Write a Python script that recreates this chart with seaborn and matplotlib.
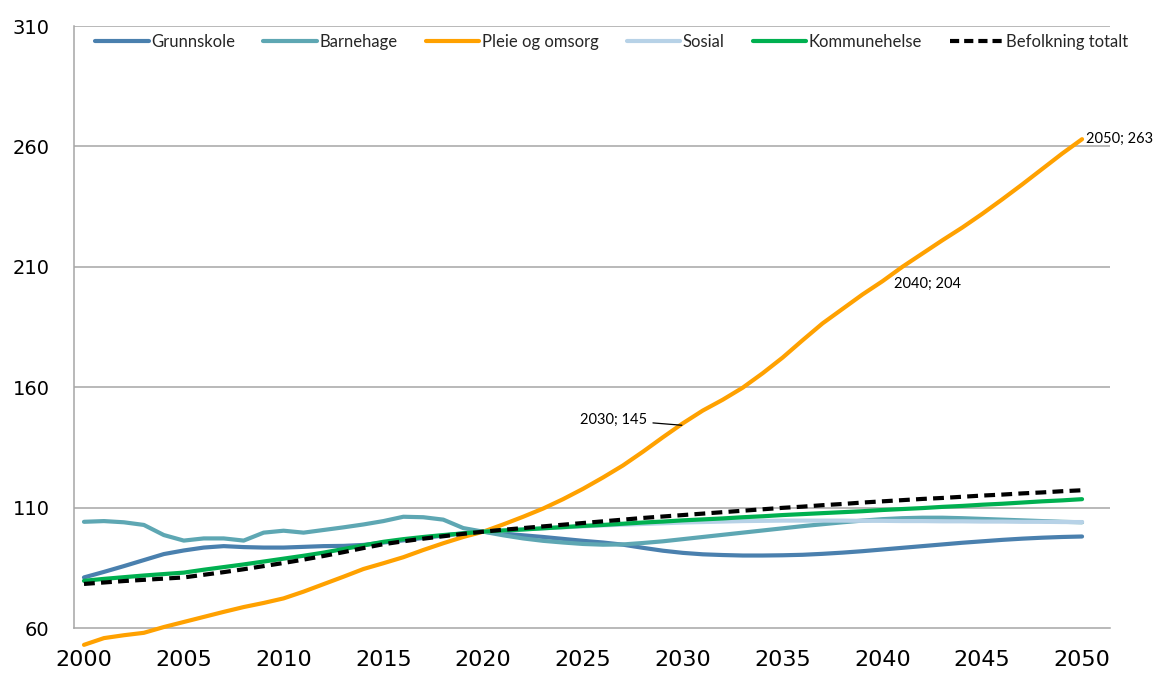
import numpy as np
import pandas as pd
import matplotlib
matplotlib.use("Agg")
import matplotlib.pyplot as plt
from matplotlib.lines import Line2D
import seaborn as sns

years = list(range(2000, 2051))

grunnskole = [81.0, 83.3, 85.7, 88.2, 90.7, 92.2, 93.4, 94.0, 93.6, 93.4,
              93.4, 93.7, 94.0, 94.1, 94.5, 95.5, 96.4, 97.4, 98.4, 99.3,
              100.0, 99.2, 98.5, 97.8, 97.0, 96.2, 95.5, 94.6, 93.3, 92.1,
              91.2, 90.6, 90.3, 90.1, 90.1, 90.2, 90.4, 90.8, 91.3, 91.9,
              92.6, 93.3, 94.0, 94.7, 95.4, 96.0, 96.6, 97.1, 97.5, 97.8, 98.0]
barnehage = [104.1, 104.4, 103.9, 102.8, 98.6, 96.3, 97.2, 97.2, 96.3, 99.6,
             100.4, 99.6, 100.7, 101.8, 103.0, 104.4, 106.2, 106.0, 105.0, 101.5,
             100.0, 98.5, 97.2, 96.2, 95.5, 94.9, 94.6, 94.7, 95.3, 96.0,
             96.9, 97.8, 98.7, 99.6, 100.5, 101.4, 102.3, 103.1, 103.9, 104.6,
             105.2, 105.6, 105.8, 105.8, 105.6, 105.3, 105.0, 104.7, 104.4, 104.1, 103.9]
pleie = [53.0, 55.8, 57.0, 58.0, 60.4, 62.5, 64.6, 66.7, 68.7, 70.4,
         72.3, 75.1, 78.2, 81.3, 84.5, 86.9, 89.4, 92.4, 95.2, 97.8,
         100.0, 103.0, 106.2, 109.6, 113.5, 117.8, 122.5, 127.5, 133.2, 139.2,
         145.0, 150.3, 154.8, 159.8, 165.8, 172.3, 179.5, 186.5, 192.5, 198.5,
         204.0, 210.0, 215.5, 221.0, 226.3, 232.0, 238.0, 244.2, 250.6, 257.0, 263.0]
sosial = [None] * 20 + [100.0, 100.5, 101.0, 101.4, 101.8, 102.2, 102.6, 102.9, 103.2, 103.5,
                        103.8, 104.0, 104.2, 104.4, 104.5, 104.6, 104.6, 104.6, 104.6, 104.5,
                        104.5, 104.4, 104.4, 104.3, 104.3, 104.2, 104.2, 104.1, 104.1, 104.0, 104.0]
kommunehelse = [79.6, 80.4, 81.1, 81.8, 82.4, 83.0, 84.2, 85.3, 86.4, 87.6,
                88.8, 90.0, 91.3, 92.8, 94.3, 95.8, 96.9, 97.8, 98.6, 99.3,
                100.0, 100.5, 100.9, 101.4, 101.9, 102.4, 102.8, 103.3, 103.8, 104.2,
                104.7, 105.1, 105.5, 106.0, 106.4, 106.9, 107.3, 107.7, 108.1, 108.5,
                109.0, 109.4, 109.8, 110.3, 110.7, 111.2, 111.6, 112.1, 112.6, 113.0, 113.5]
befolkning = [78.3, 78.9, 79.5, 80.0, 80.5, 81.0, 82.1, 83.2, 84.4, 85.7,
              87.0, 88.4, 89.9, 91.5, 93.2, 94.8, 96.0, 97.1, 98.1, 99.1,
              100.0, 100.8, 101.5, 102.2, 102.9, 103.6, 104.3, 105.0, 105.7, 106.3,
              106.9, 107.5, 108.1, 108.7, 109.3, 109.9, 110.4, 111.0, 111.5, 112.1,
              112.6, 113.1, 113.6, 114.0, 114.5, 115.0, 115.4, 115.9, 116.3, 116.8, 117.2]

series_names = ["Grunnskole", "Barnehage", "Pleie og omsorg", "Sosial",
                "Kommunehelse", "Befolkning totalt"]
series_values = [grunnskole, barnehage, pleie, sosial, kommunehelse, befolkning]
colors = ["#4A80AE", "#5EA7B3", "#FFA100", "#B7D2E7", "#00B050", "#000000"]
styles = ["-", "-", "-", "-", "-", "--"]

y_ticks = [60, 110, 160, 210, 260, 310]
x_ticks = [2000, 2005, 2010, 2015, 2020, 2025, 2030, 2035, 2040, 2045, 2050]
annotations = [(2030, 145, "2030; 145"), (2040, 204, "2040; 204"), (2050, 263, "2050; 263")]

sns.set_style("white")
plt.rcParams["font.family"] = ["DejaVu Sans"]

fig = plt.figure(figsize=(11.54, 6.75), dpi=100)
ax = fig.add_axes([74 / 1154, 47 / 675, (1110 - 74) / 1154, (628 - 26) / 675])

grid_c = "#A6A6A6"
for yv in y_ticks[1:]:
    ax.axhline(yv, color=grid_c, lw=1.1, zorder=0)

handles = []
for name, vals, c, ls in zip(series_names, series_values, colors, styles):
    df = pd.DataFrame({"year": years, "value": [np.nan if v is None else v for v in vals]})
    df = df.dropna()
    if ls == "--":
        sns.lineplot(data=df, x="year", y="value", ax=ax, color=c, lw=3.0,
                     dashes=False, zorder=3, clip_on=False)
        ax.lines[-1].set_dashes([2.6, 1.5])
    else:
        sns.lineplot(data=df, x="year", y="value", ax=ax, color=c, lw=3.0,
                     zorder=2, solid_capstyle="round", clip_on=False)
    h = Line2D([0], [0], color=c, lw=3.0)
    if ls == "--":
        h.set_dashes([2.2, 1.2])
    handles.append(h)

ax.set_xlim(1999.6, 2051.4)
ax.set_ylim(60, 310)
ax.set_xlabel("")
ax.set_ylabel("")
ax.set_yticks(y_ticks)
ax.set_yticklabels([str(v) for v in y_ticks], fontsize=14)
ax.set_xticks(x_ticks)
ax.set_xticklabels([str(v) for v in x_ticks], fontsize=16)
ax.set_xticks([v - 0.5 for v in x_ticks], minor=True)
ax.tick_params(axis="x", which="major", length=0, pad=16, colors="black")
ax.tick_params(axis="x", which="minor", length=6, width=1, color=grid_c, direction="out")
ax.tick_params(axis="y", which="major", length=6.5, width=1, color=grid_c, pad=11,
               direction="out", labelcolor="black")

for side in ["top", "right"]:
    ax.spines[side].set_visible(False)
for side in ["left", "bottom"]:
    ax.spines[side].set_color(grid_c)
    ax.spines[side].set_linewidth(1.1)
ax.spines["bottom"].set_zorder(1)

# annotations
ann_font = dict(fontsize=10.5, family=["Lato", "DejaVu Sans"], color="black")
a = annotations[0]
ax.annotate(a[2], xy=(a[0] - 0.05, a[1] - 0.8), xytext=(2028.2, 146.5),
            ha="right", va="center", arrowprops=dict(arrowstyle="-", color="black", lw=0.9,
                                                    shrinkA=2, shrinkB=0),
            **ann_font)
a = annotations[1]
ax.text(a[0] + 0.6, a[1] - 1.0, a[2], ha="left", va="center", **ann_font)
a = annotations[2]
ax.text(a[0] + 0.2, a[1], a[2], ha="left", va="center", **ann_font)

leg = ax.legend(handles, series_names, loc="center", bbox_to_anchor=(0.519, 0.973),
                ncol=6, frameon=False, handlelength=3.2, handletextpad=0.15,
                columnspacing=1.7, prop={"family": ["Lato", "DejaVu Sans"], "size": 12})

fig.savefig("out.png", dpi=100)
